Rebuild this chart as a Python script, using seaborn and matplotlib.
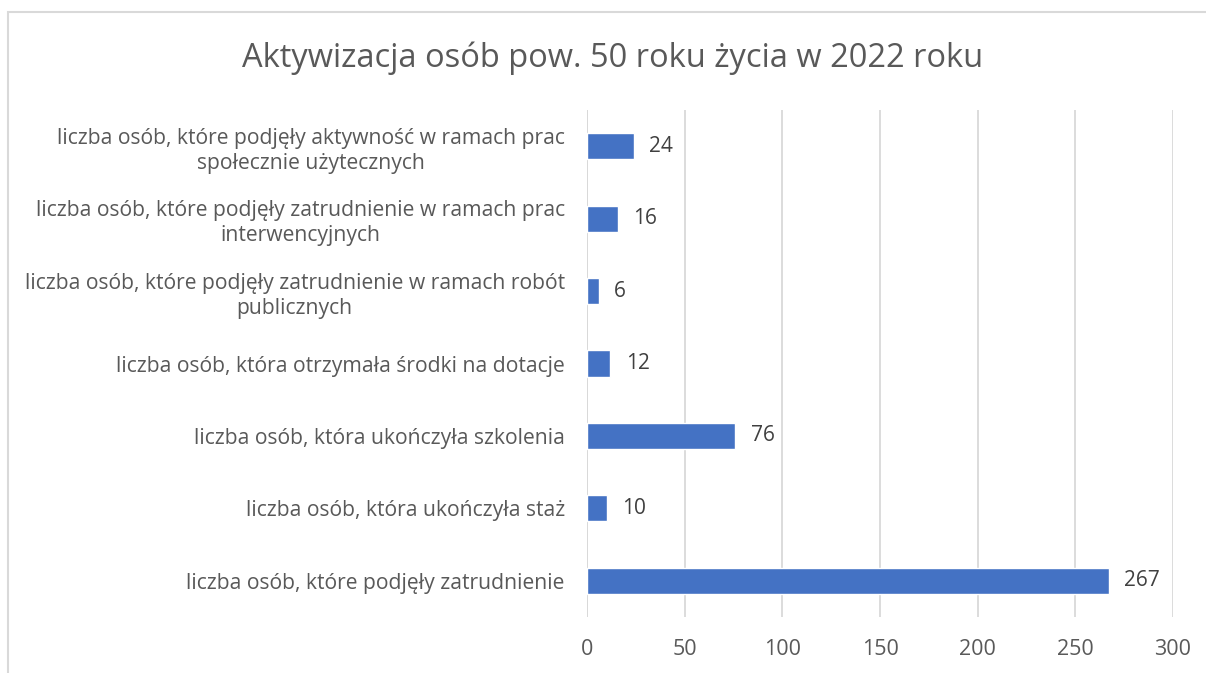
import matplotlib
matplotlib.use("Agg")
import matplotlib.pyplot as plt
import seaborn as sns
import pandas as pd
from matplotlib.patches import Rectangle

# data (top to bottom)
categories = [
    "liczba osób, które podjęły aktywność w ramach prac\nspołecznie użytecznych",
    "liczba osób, które podjęły zatrudnienie w ramach prac\ninterwencyjnych",
    "liczba osób, które podjęły zatrudnienie w ramach robót\npublicznych",
    "liczba osób, która otrzymała środki na dotacje",
    "liczba osób, która ukończyła szkolenia",
    "liczba osób, która ukończyła staż",
    "liczba osób, które podjęły zatrudnienie",
]
values = [24, 16, 6, 12, 76, 10, 267]
x_ticks = [0, 50, 100, 150, 200, 250, 300]
title = "Aktywizacja osób pow. 50 roku życia w 2022 roku"

df = pd.DataFrame({"kategoria": categories, "liczba": values})

sns.set_style("white")
plt.rcParams["font.family"] = ["Open Sans", "DejaVu Sans"]

text_color = "#595959"
bar_color = "#4472C4"

fig = plt.figure(figsize=(12.06, 6.73), dpi=100)
ax = fig.add_axes([587 / 1206, 1 - 617 / 673, (1173 - 587) / 1206, (617 - 110) / 673])

sns.barplot(data=df, x="liczba", y="kategoria", color=bar_color, saturation=1,
            width=0.36, ax=ax, orient="h")

ax.set_xlim(0, 300)
ax.set_ylim(6.5, -0.5)
ax.set_xticks(x_ticks)
ax.xaxis.grid(True, color="#d9d9d9", linewidth=1.3)
ax.set_axisbelow(True)
for s in ax.spines.values():
    s.set_visible(False)
ax.axvline(0, color="#d9d9d9", linewidth=1.3, zorder=0)

ax.tick_params(axis="x", length=0, pad=16, labelsize=15.5, labelcolor=text_color)
ax.tick_params(axis="y", length=0, pad=16, labelsize=15.2, labelcolor=text_color)
for lbl in ax.get_yticklabels():
    lbl.set_multialignment("center")
    lbl.set_linespacing(1.25)
ax.set_xlabel("")
ax.set_ylabel("")

for container in ax.containers:
    ax.bar_label(container, labels=[str(v) for v in values], padding=11,
                 fontsize=15, color="#404040")

fig.text(613 / 1206, 1 - 58 / 673, title, ha="center", va="center",
         fontsize=23.5, color=text_color)

# chart border (only top and left edges are in frame)
fig.patches.append(Rectangle((8 / 1206, -0.1), 1.2, 1 - 12 / 673 + 0.1,
                             transform=fig.transFigure, fill=False,
                             edgecolor="#d9d9d9", linewidth=1.5))

fig.savefig("out.png", dpi=100)
